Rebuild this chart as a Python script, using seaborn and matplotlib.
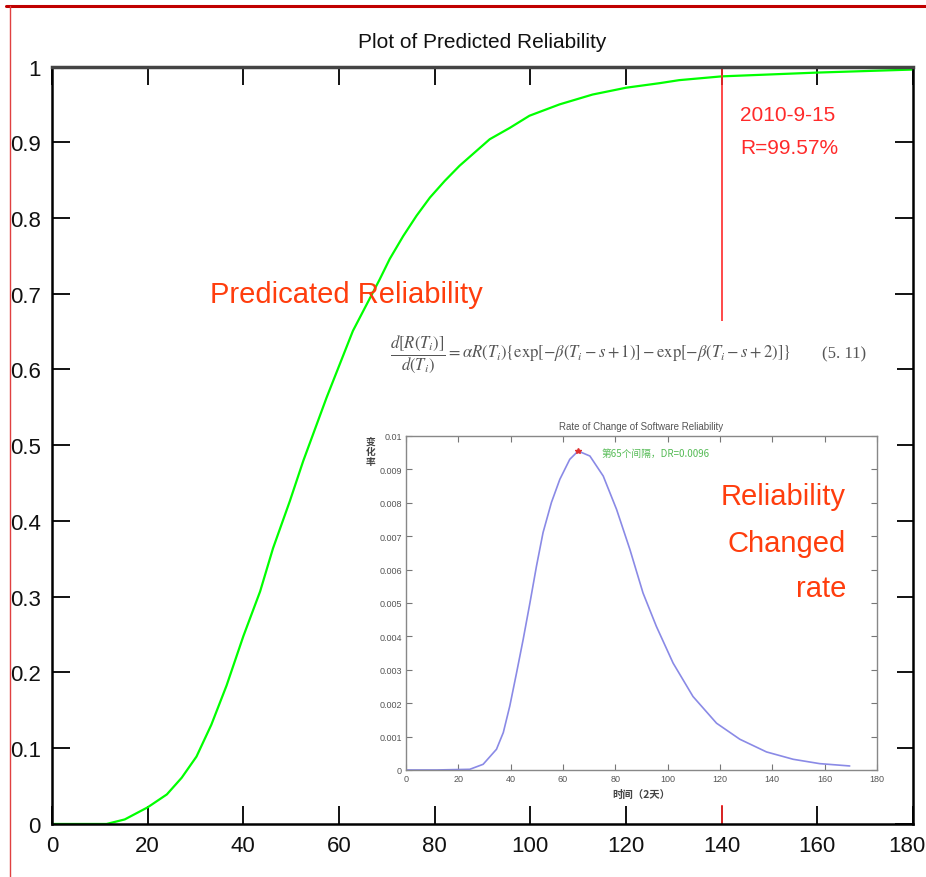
import matplotlib
matplotlib.use("Agg")
import matplotlib.pyplot as plt
from matplotlib.lines import Line2D
import matplotlib.transforms as mtransforms
import seaborn as sns
import pandas as pd

sns.set_theme(style="white")
plt.rcParams['font.family'] = ['Liberation Sans', 'DejaVu Sans']
plt.rcParams['mathtext.fontset'] = 'stix'

# predicted reliability (main plot)
rel_days = [0, 11.4, 15.2, 20, 24, 27.1, 30.2, 33.3, 36.5, 40, 43.5, 46.2, 49.7,
            52.5, 55.3, 57.4, 62.9, 68.5, 70.6, 73.4, 76.2, 79, 82.1, 85.2, 91.5,
            95.7, 99.8, 106.1, 113, 120, 127, 131.1, 140, 160, 180]
rel_values = [0, 0, 0.006, 0.022, 0.039, 0.061, 0.089, 0.131, 0.183, 0.248, 0.307,
              0.364, 0.426, 0.479, 0.527, 0.563, 0.651, 0.719, 0.746, 0.776, 0.803,
              0.827, 0.849, 0.869, 0.904, 0.919, 0.935, 0.950, 0.963, 0.972, 0.978,
              0.982, 0.987, 0.992, 0.996]
marker_day = 140
marker_labels = ["2010-9-15", "R=99.57%"]

x_ticks = [0, 20, 40, 60, 80, 100, 120, 140, 160, 180]
y_ticks = [0, 0.1, 0.2, 0.3, 0.4, 0.5, 0.6, 0.7, 0.8, 0.9, 1]
y_ticklabels = ["0", "0.1", "0.2", "0.3", "0.4", "0.5", "0.6", "0.7", "0.8", "0.9", "1"]

# rate of change (inset)
rate_days = [0, 11.7, 24.4, 29.5, 34.6, 37.2, 39.7, 42.3, 44.8, 47.4, 49.9, 52.4,
             55.6, 58.8, 62.6, 65.8, 70.3, 75.4, 80.5, 85.6, 90.6, 95.7, 102.1,
             109.7, 118.7, 127.6, 137.8, 148, 158.1, 169.6]
rate_values = [0, 0, 0.00002, 0.00017, 0.00062, 0.00112, 0.00192, 0.00292, 0.00391,
               0.00501, 0.00611, 0.00711, 0.00801, 0.0087, 0.0093, 0.00955, 0.0094,
               0.0088, 0.0078, 0.0066, 0.0053, 0.0043, 0.0032, 0.0022, 0.0014,
               0.00092, 0.00054, 0.00032, 0.00019, 0.00012]
peak_day, peak_rate = 65.8, 0.00955
inset_yticks = [0, 0.001, 0.002, 0.003, 0.004, 0.005, 0.006, 0.007, 0.008, 0.009, 0.01]
inset_yticklabels = ["0", "0.001", "0.002", "0.003", "0.004", "0.005", "0.006",
                     "0.007", "0.008", "0.009", "0.01"]

cjk = ['Noto Sans CJK SC', 'DejaVu Sans']

fig = plt.figure(figsize=(9.26, 8.78), dpi=100)
fig.patch.set_facecolor("white")

# ---- main axes
ax = fig.add_axes([0.0562, 0.0604, 0.9298, 0.8627])
rel_df = pd.DataFrame({"day": rel_days, "R": rel_values})
sns.lineplot(data=rel_df, x="day", y="R", ax=ax, color="#00ff00", lw=1.6)
ax.axvline(marker_day, color="#ff2a2a", lw=1.2)
ax.set_xlim(0, 180)
ax.set_ylim(0, 1)
ax.set_xticks(x_ticks)
ax.set_xticklabels([str(t) for t in x_ticks], fontsize=16)
ax.set_yticks(y_ticks)
ax.set_yticklabels(y_ticklabels, fontsize=16)
ax.tick_params(direction="in", length=13, width=1.3, color="black",
               top=True, right=True, bottom=True, left=True, pad=8,
               labelcolor="#111111")
# last x label sits against the right edge of the slide
last = ax.get_xticklabels()[-1]
last.set_ha("right")
last.set_transform(last.get_transform() +
                   mtransforms.ScaledTranslation(0.12, 0, fig.dpi_scale_trans))
for sp in ax.spines.values():
    sp.set_color("black")
    sp.set_linewidth(1.8)
ax.spines["top"].set_color("#444444")
ax.spines["top"].set_linewidth(2.5)
ax.set_xlabel("")
ax.set_ylabel("")
ax.set_title("Plot of Predicted Reliability", fontsize=15, pad=14, color="#111111")

ax.text(143.8, 0.937, marker_labels[0], color="#ff2a2a", fontsize=15, va="center")
ax.text(143.8, 0.893, marker_labels[1], color="#ff2a2a", fontsize=15, va="center")

# ---- pasted picture area (formula + inset), white background
holder = fig.add_axes([0.394, 0.082, 0.575, 0.551])
holder.set_facecolor("white")
holder.set_xticks([])
holder.set_yticks([])
for sp in holder.spines.values():
    sp.set_visible(False)

formula = (r"$\dfrac{d[R(T_i)]}{d(T_i)} = \alpha R(T_i)\{\exp[-\beta(T_i-s+1)]"
           r" - \exp[-\beta(T_i-s+2)]\}$")
fig.text(0.421, 0.596, formula, fontsize=12, color="#555555", va="center")
fig.text(0.888, 0.596, "(5. 11)", fontsize=12, color="#555555", va="center",
         family=['Liberation Serif', 'DejaVu Serif'])

# ---- inset axes
ax_in = fig.add_axes([0.4384, 0.1219, 0.5086, 0.3804])
rate_df = pd.DataFrame({"day": rate_days, "rate": rate_values})
sns.lineplot(data=rate_df, x="day", y="rate", ax=ax_in, color="#8a8ae6", lw=1.2)
ax_in.plot([peak_day], [peak_rate], marker="*", color="#e03030", ms=4)
ax_in.set_xlim(0, 180)
ax_in.set_ylim(0, 0.01)
ax_in.set_xticks(x_ticks)
ax_in.set_xticklabels([str(t) for t in x_ticks], fontsize=6.5, color="#555555")
ax_in.set_yticks(inset_yticks)
ax_in.set_yticklabels(inset_yticklabels, fontsize=6.5, color="#555555")
ax_in.tick_params(direction="in", length=4, width=0.8, color="#777777",
                  top=True, right=True, bottom=True, left=True, pad=3)
for sp in ax_in.spines.values():
    sp.set_color("#888888")
    sp.set_linewidth(1.0)
ax_in.set_title("Rate of Change of Software Reliability", fontsize=7,
                color="#555555", pad=5)
ax_in.set_xlabel("时间（2天）", family=cjk, fontsize=7.5, color="#444444",
                 fontweight="bold", labelpad=4)
ax_in.set_ylabel("")
ax_in.text(-0.075, 1.0, "变\n化\n率", transform=ax_in.transAxes, family=cjk,
           fontsize=7, color="#444444", fontweight="bold", va="top",
           ha="center", linespacing=1.0)
ax_in.text(74.7, 0.00948, "第65个间隔，DR=0.0096", family=cjk, fontsize=7,
           color="#55bb55", va="center")

# ---- slide labels
fig.text(0.2268, 0.664, "Predicated Reliability", color="#ff3d0d", fontsize=21,
         va="center")
for txt, yy in zip(["Reliability", "Changed", "rate"], [0.434, 0.380, 0.329]):
    fig.text(0.9136, yy, txt, color="#ff3d0d", fontsize=21, va="center", ha="right")

# slide border lines
fig.add_artist(Line2D([0.006, 1.0], [0.9915, 0.9915], transform=fig.transFigure,
                      color="#c00000", lw=2.2))
fig.add_artist(Line2D([0.0113, 0.0113], [0.0, 0.9915], transform=fig.transFigure,
                      color="#e04040", lw=1.0))

fig.savefig("out.png", dpi=100)
